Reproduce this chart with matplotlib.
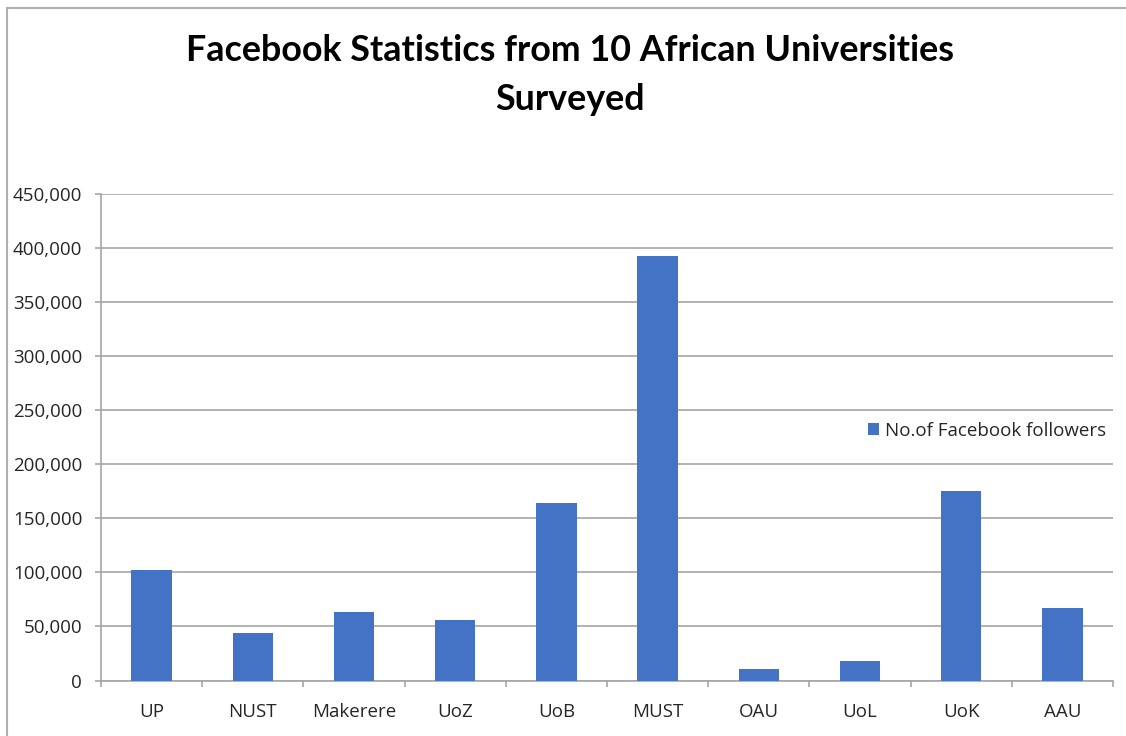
import matplotlib
matplotlib.use("Agg")
import matplotlib.pyplot as plt
from matplotlib.ticker import FuncFormatter, MultipleLocator
from matplotlib.lines import Line2D

universities = ["UP", "NUST", "Makerere", "UoZ", "UoB", "MUST", "OAU", "UoL", "UoK", "AAU"]
followers = [102600, 44200, 63400, 56000, 164200, 393300, 10700, 18500, 175000, 66700]
series_label = "No.of Facebook followers"
title = "Facebook Statistics from 10 African Universities\nSurveyed"

plt.rcParams['font.family'] = ['Open Sans', 'DejaVu Sans']

W, H = 1126, 736
fig = plt.figure(figsize=(W / 100, H / 100), dpi=100)
fig.patch.set_facecolor("white")

ax = fig.add_axes([101 / W, 1 - 680.5 / H, (1113 - 101) / W, (680.5 - 194.3) / H])

grid_c = "#a6a6a6"
x = range(len(universities))
bars = ax.bar(x, followers, width=0.4, color="#4472c4", label=series_label, zorder=3)

ax.set_xlim(-0.5, len(universities) - 0.5)
ax.set_ylim(0, 450000)
ax.yaxis.set_major_locator(MultipleLocator(50000))
ax.yaxis.set_major_formatter(FuncFormatter(lambda v, p: f"{int(v):,}"))
ax.grid(axis="y", color=grid_c, linewidth=1.2, zorder=0)
ax.set_axisbelow(True)

for s in ["top", "right"]:
    ax.spines[s].set_visible(False)
for s in ["left", "bottom"]:
    ax.spines[s].set_color(grid_c)
    ax.spines[s].set_linewidth(1.2)

ax.set_xticks(list(x))
ax.set_xticklabels(universities)
ax.set_xticks([i - 0.5 for i in range(len(universities) + 1)], minor=True)
ax.tick_params(axis="x", which="major", length=0, pad=16, labelsize=13.5, labelcolor="#262626")
ax.tick_params(axis="x", which="minor", length=4.5, width=1.2, color=grid_c, direction="out")
ax.tick_params(axis="y", length=4.5, width=1.2, color=grid_c, pad=9, labelsize=13.5, labelcolor="#262626")

fig.text(569.5 / W, 1 - 75 / H, title, ha="center", va="center", fontsize=25.8,
         fontweight="bold", color="black", linespacing=1.6, family=["Lato", "DejaVu Sans"])

fig.legend(handles=[bars], labels=[series_label], loc="center left",
           bbox_to_anchor=(868 / W, 1 - 431 / H), frameon=False, fontsize=13.5,
           handlelength=0.6, handleheight=0.6, handletextpad=0.3,
           borderpad=0, borderaxespad=0, labelcolor="#262626")

fig.add_artist(Line2D([7 / W, 1], [1 - 8 / H, 1 - 8 / H], transform=fig.transFigure,
                      color="#b0b0b0", linewidth=1.5))
fig.add_artist(Line2D([7 / W, 7 / W], [0, 1 - 8 / H], transform=fig.transFigure,
                      color="#b0b0b0", linewidth=1.5))

fig.savefig("out.png", dpi=100)
